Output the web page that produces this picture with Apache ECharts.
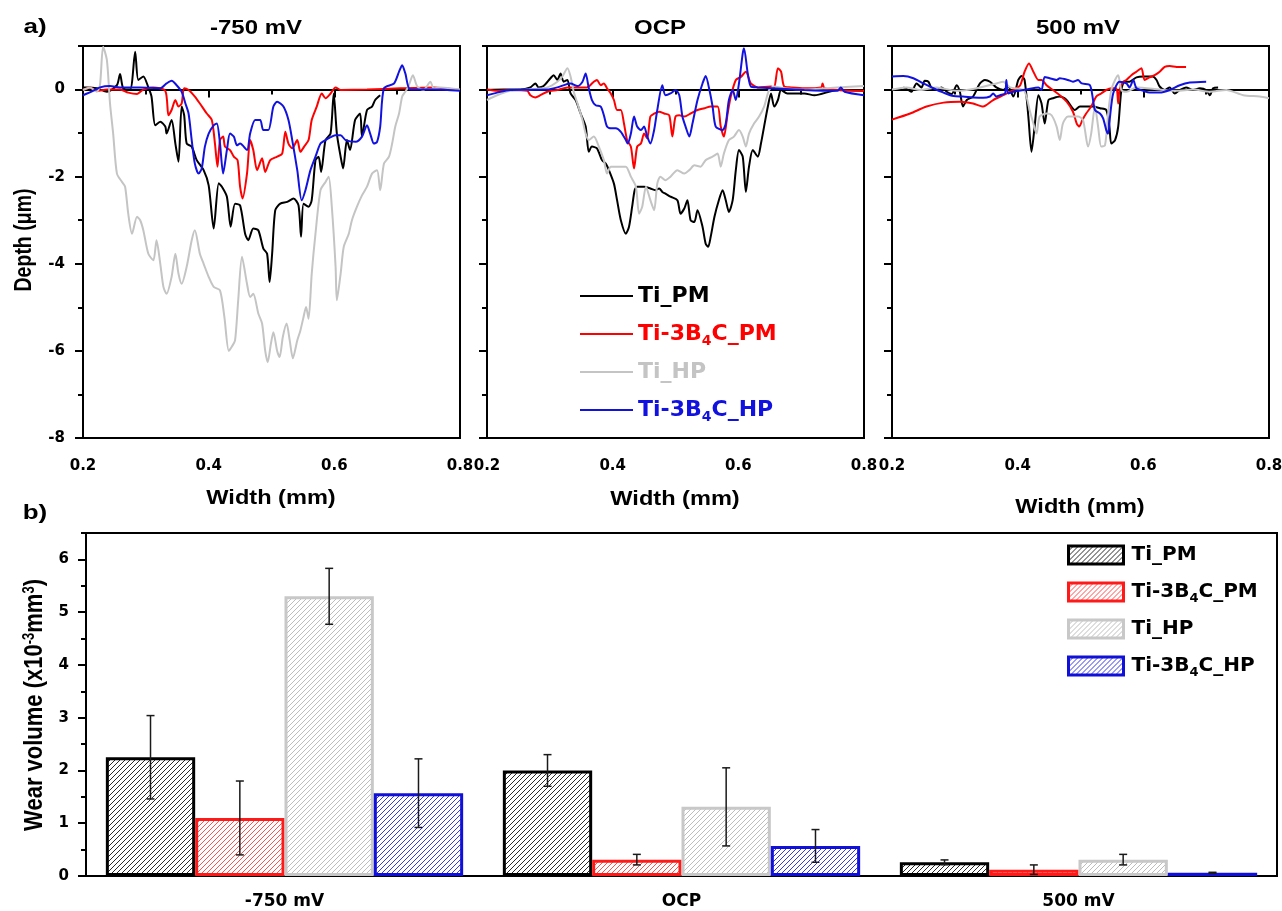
<!DOCTYPE html>
<html>
<head>
<meta charset="utf-8">
<title>Wear track profiles and wear volume</title>
<script src="https://cdn.jsdelivr.net/npm/echarts@6/dist/echarts.min.js"></script>
<style>
  html, body { margin: 0; padding: 0; background: #fff; }
  #chart { width: 1282px; height: 911px; }
</style>
</head>
<body>
<div id="chart"></div>
<script>
// ---------- wear track profiles: [width (mm), depth (µm)] ----------
const TI_PM_N750 = [[0.200,0.05],[0.206,0.05],[0.222,0.03],[0.238,-0.05],[0.254,0.10],[0.259,0.36],[0.264,0.03],[0.275,0.00],[0.283,0.87],[0.288,0.22],[0.296,0.30],[0.304,0.05],[0.309,-0.16],[0.315,-0.82],[0.323,-0.74],[0.331,-0.85],[0.333,-1.01],[0.341,-0.70],[0.347,-1.24],[0.352,-1.66],[0.357,-0.39],[0.361,-0.59],[0.365,-1.24],[0.373,-1.31],[0.381,-1.62],[0.392,-1.85],[0.400,-2.20],[0.408,-3.19],[0.416,-2.15],[0.421,-2.23],[0.429,-2.46],[0.435,-3.15],[0.442,-2.62],[0.450,-2.66],[0.458,-3.31],[0.463,-3.46],[0.471,-3.19],[0.479,-3.23],[0.487,-3.65],[0.493,-3.77],[0.497,-4.42],[0.501,-3.77],[0.506,-2.77],[0.514,-2.62],[0.525,-2.58],[0.535,-2.50],[0.543,-2.66],[0.547,-3.38],[0.551,-2.62],[0.559,-2.69],[0.564,-2.54],[0.570,-1.62],[0.575,-1.54],[0.579,-1.89],[0.586,-1.16],[0.594,-1.01],[0.599,-0.09],[0.604,-1.01],[0.610,-1.54],[0.614,-1.81],[0.620,-1.16],[0.625,-1.39],[0.633,-0.70],[0.641,-0.55],[0.644,-1.08],[0.652,-0.47],[0.660,-0.39],[0.665,-0.24],[0.673,-0.13]];
const B4C_PM_N750 = [[0.200,-0.01],[0.211,0.05],[0.222,-0.03],[0.238,0.00],[0.259,0.00],[0.272,-0.07],[0.286,-0.10],[0.296,0.00],[0.312,0.05],[0.331,-0.03],[0.336,-0.59],[0.341,-0.47],[0.347,-0.24],[0.352,-0.39],[0.357,-0.32],[0.361,0.03],[0.368,-0.01],[0.378,-0.16],[0.386,-0.32],[0.397,-0.55],[0.405,-0.70],[0.410,-1.24],[0.414,-1.77],[0.418,-1.16],[0.423,-1.08],[0.426,-1.31],[0.434,-1.39],[0.440,-1.54],[0.446,-1.62],[0.450,-2.23],[0.454,-2.50],[0.461,-1.93],[0.466,-1.16],[0.471,-1.39],[0.477,-1.85],[0.485,-1.58],[0.490,-1.89],[0.498,-1.62],[0.509,-1.54],[0.517,-1.47],[0.522,-0.97],[0.527,-1.24],[0.533,-1.35],[0.541,-1.16],[0.546,-1.43],[0.552,-1.31],[0.559,-1.16],[0.564,-0.70],[0.572,-0.39],[0.580,-0.09],[0.586,-0.20],[0.594,-0.09],[0.602,0.05],[0.610,-0.01],[0.652,0.00],[0.705,0.03],[0.758,0.05],[0.800,-0.01]];
const TI_HP_N750 = [[0.200,-0.01],[0.211,0.05],[0.222,-0.05],[0.227,0.10],[0.232,0.98],[0.238,0.68],[0.243,-0.32],[0.248,-1.01],[0.254,-1.93],[0.262,-2.12],[0.267,-2.23],[0.272,-2.85],[0.278,-3.31],[0.286,-2.92],[0.291,-3.00],[0.296,-3.23],[0.304,-3.77],[0.312,-3.92],[0.317,-3.46],[0.323,-4.00],[0.328,-4.53],[0.333,-4.69],[0.341,-4.30],[0.347,-3.77],[0.352,-4.23],[0.357,-4.46],[0.365,-4.07],[0.373,-3.46],[0.378,-3.23],[0.386,-3.77],[0.392,-4.00],[0.400,-4.30],[0.408,-4.53],[0.418,-4.61],[0.425,-5.22],[0.432,-6.00],[0.437,-5.90],[0.442,-5.76],[0.447,-4.84],[0.453,-3.84],[0.461,-4.46],[0.466,-4.76],[0.471,-4.69],[0.479,-5.14],[0.485,-5.37],[0.490,-6.00],[0.494,-6.26],[0.499,-5.84],[0.503,-5.57],[0.509,-6.00],[0.513,-6.14],[0.518,-5.68],[0.524,-5.37],[0.529,-5.76],[0.534,-6.17],[0.541,-5.76],[0.546,-5.53],[0.551,-5.22],[0.555,-4.99],[0.559,-5.26],[0.564,-4.23],[0.570,-3.31],[0.578,-2.31],[0.586,-2.12],[0.591,-2.00],[0.596,-2.69],[0.602,-4.07],[0.604,-4.84],[0.610,-4.23],[0.615,-3.61],[0.623,-3.31],[0.628,-3.00],[0.636,-2.69],[0.644,-2.43],[0.652,-2.23],[0.660,-1.93],[0.668,-1.85],[0.673,-2.31],[0.679,-1.70],[0.687,-1.54],[0.692,-1.24],[0.697,-0.85],[0.703,-0.55],[0.708,-0.16],[0.713,-0.05],[0.718,0.07],[0.725,0.33],[0.732,0.07],[0.742,-0.01],[0.753,0.18],[0.758,0.03],[0.769,0.05],[0.800,0.00]];
const B4C_HP_N750 = [[0.200,-0.13],[0.216,-0.03],[0.227,0.05],[0.243,0.08],[0.259,0.05],[0.291,0.05],[0.323,0.03],[0.333,0.14],[0.341,0.20],[0.349,0.10],[0.357,-0.05],[0.363,-0.32],[0.368,-0.55],[0.373,-1.16],[0.378,-1.70],[0.384,-1.93],[0.389,-1.81],[0.394,-1.31],[0.400,-1.01],[0.408,-0.82],[0.413,-0.78],[0.418,-1.24],[0.423,-1.93],[0.429,-1.39],[0.434,-1.01],[0.440,-1.08],[0.445,-1.28],[0.450,-1.24],[0.461,-1.39],[0.466,-1.01],[0.474,-0.70],[0.482,-0.70],[0.487,-0.93],[0.495,-0.93],[0.503,-0.39],[0.509,-0.28],[0.519,-0.39],[0.527,-0.70],[0.533,-1.16],[0.541,-1.85],[0.548,-2.54],[0.554,-2.31],[0.562,-1.85],[0.570,-1.54],[0.578,-1.24],[0.586,-1.16],[0.602,-1.05],[0.610,-1.05],[0.618,-1.16],[0.634,-1.20],[0.644,-1.08],[0.652,-0.82],[0.657,-1.01],[0.663,-1.24],[0.668,-1.20],[0.673,-0.85],[0.679,0.03],[0.695,0.14],[0.703,0.41],[0.708,0.56],[0.713,0.37],[0.721,0.00],[0.758,0.00],[0.800,-0.03]];

const TI_PM_OCP = [[0.200,-0.01],[0.227,0.00],[0.253,0.00],[0.269,0.05],[0.277,0.14],[0.282,0.05],[0.290,0.08],[0.301,0.26],[0.306,0.33],[0.312,0.22],[0.317,0.37],[0.322,0.18],[0.328,0.22],[0.333,-0.09],[0.341,-0.24],[0.349,-0.55],[0.357,-0.85],[0.362,-1.43],[0.367,-1.31],[0.375,-1.35],[0.383,-1.62],[0.389,-1.70],[0.394,-1.85],[0.402,-2.16],[0.407,-2.54],[0.413,-3.00],[0.421,-3.31],[0.426,-3.15],[0.431,-2.69],[0.435,-2.31],[0.439,-2.23],[0.450,-2.23],[0.460,-2.27],[0.468,-2.31],[0.474,-2.27],[0.479,-2.35],[0.484,-2.39],[0.492,-2.46],[0.503,-2.54],[0.508,-2.85],[0.514,-2.73],[0.519,-2.54],[0.524,-3.00],[0.530,-3.04],[0.535,-2.77],[0.543,-3.15],[0.548,-3.54],[0.552,-3.61],[0.556,-3.38],[0.562,-2.92],[0.569,-2.54],[0.575,-2.31],[0.580,-2.54],[0.585,-2.81],[0.591,-2.54],[0.596,-1.85],[0.601,-1.39],[0.607,-1.54],[0.612,-2.35],[0.617,-1.77],[0.623,-1.39],[0.631,-1.54],[0.636,-1.24],[0.641,-0.85],[0.647,-0.39],[0.652,-0.09],[0.657,-0.39],[0.663,-0.24],[0.668,-0.01],[0.678,-0.09],[0.705,-0.09],[0.721,-0.13],[0.758,-0.01],[0.800,-0.03]];
const B4C_PM_OCP = [[0.200,0.00],[0.216,-0.03],[0.237,-0.01],[0.264,-0.03],[0.269,-0.13],[0.277,-0.18],[0.285,-0.13],[0.296,-0.05],[0.312,-0.01],[0.328,0.05],[0.359,0.05],[0.370,0.18],[0.375,0.22],[0.381,0.10],[0.386,0.14],[0.391,0.03],[0.397,-0.09],[0.402,-0.24],[0.407,-0.47],[0.413,-0.47],[0.418,-0.78],[0.423,-1.16],[0.429,-1.31],[0.434,-1.81],[0.439,-1.31],[0.445,-1.24],[0.450,-1.01],[0.455,-1.12],[0.460,-0.62],[0.466,-0.55],[0.474,-0.51],[0.482,-0.55],[0.490,-0.59],[0.495,-1.08],[0.500,-0.62],[0.506,-0.59],[0.514,-0.62],[0.524,-0.55],[0.535,-0.47],[0.546,-0.43],[0.556,-0.39],[0.567,-0.39],[0.572,-0.85],[0.577,-1.08],[0.583,-0.55],[0.588,-0.16],[0.596,0.22],[0.604,0.29],[0.612,0.41],[0.620,0.14],[0.631,0.05],[0.652,0.07],[0.657,0.05],[0.663,0.49],[0.668,0.41],[0.673,0.07],[0.684,0.05],[0.705,0.03],[0.732,0.05],[0.734,0.14],[0.737,0.03],[0.758,-0.01],[0.800,-0.03]];
const TI_HP_OCP = [[0.200,-0.24],[0.216,-0.13],[0.237,-0.03],[0.264,0.00],[0.296,0.05],[0.312,0.18],[0.320,0.30],[0.328,0.49],[0.333,0.30],[0.338,-0.05],[0.344,-0.32],[0.352,-0.70],[0.357,-1.01],[0.362,-1.16],[0.370,-1.08],[0.378,-1.31],[0.386,-1.62],[0.391,-1.93],[0.397,-1.77],[0.405,-1.77],[0.413,-1.77],[0.421,-1.77],[0.429,-2.00],[0.437,-2.23],[0.442,-2.85],[0.447,-2.69],[0.453,-2.23],[0.460,-2.54],[0.466,-2.77],[0.471,-2.16],[0.476,-2.00],[0.484,-2.08],[0.492,-2.00],[0.503,-1.85],[0.514,-1.93],[0.522,-1.85],[0.530,-1.74],[0.540,-1.77],[0.548,-1.62],[0.559,-1.54],[0.567,-1.47],[0.572,-1.77],[0.577,-1.47],[0.585,-1.16],[0.593,-1.08],[0.601,-0.93],[0.607,-1.08],[0.612,-1.31],[0.617,-1.01],[0.625,-0.78],[0.633,-0.62],[0.641,-0.39],[0.649,-0.01],[0.657,0.07],[0.673,0.03],[0.705,0.00],[0.758,0.05],[0.800,0.08]];
const B4C_HP_OCP = [[0.200,-0.13],[0.216,-0.07],[0.237,-0.01],[0.296,0.00],[0.312,0.05],[0.333,0.14],[0.344,0.08],[0.352,0.18],[0.357,0.37],[0.362,0.03],[0.367,-0.24],[0.373,-0.36],[0.381,-0.39],[0.386,-0.59],[0.391,-0.85],[0.397,-0.89],[0.405,-0.89],[0.413,-0.97],[0.421,-1.16],[0.424,-1.24],[0.429,-1.01],[0.434,-0.62],[0.439,-0.85],[0.445,-0.93],[0.450,-0.85],[0.455,-1.08],[0.460,-1.24],[0.466,-0.93],[0.471,-0.47],[0.479,0.10],[0.484,-0.13],[0.492,-0.09],[0.500,-0.01],[0.506,-0.13],[0.511,-0.62],[0.516,-0.85],[0.522,-1.08],[0.527,-0.78],[0.535,-0.24],[0.543,0.14],[0.548,0.31],[0.554,-0.01],[0.559,-0.39],[0.564,-0.85],[0.575,-0.93],[0.580,-0.78],[0.585,-0.24],[0.591,-0.01],[0.596,-0.24],[0.601,0.14],[0.607,0.83],[0.609,0.95],[0.615,0.37],[0.620,0.07],[0.631,0.05],[0.705,-0.01],[0.758,-0.03],[0.763,0.05],[0.769,-0.05],[0.800,-0.13]];

const TI_PM_P500 = [[0.218,0.05],[0.226,-0.01],[0.231,-0.05],[0.239,0.14],[0.247,0.05],[0.252,0.20],[0.258,0.18],[0.263,0.03],[0.271,-0.01],[0.279,0.05],[0.287,-0.05],[0.295,-0.10],[0.303,0.10],[0.308,-0.05],[0.313,-0.39],[0.319,-0.24],[0.329,-0.16],[0.340,0.14],[0.348,0.22],[0.356,0.18],[0.366,0.05],[0.377,-0.01],[0.385,0.07],[0.393,-0.16],[0.401,0.22],[0.406,0.31],[0.411,0.22],[0.417,-0.62],[0.422,-1.43],[0.427,-0.85],[0.433,-0.13],[0.438,-0.32],[0.443,-0.78],[0.449,-0.24],[0.456,-0.20],[0.467,-0.16],[0.478,-0.24],[0.491,-0.47],[0.499,-0.39],[0.520,-0.39],[0.531,-0.43],[0.541,-0.47],[0.546,-0.85],[0.549,-1.24],[0.555,-1.16],[0.560,-0.85],[0.565,-0.01],[0.570,0.18],[0.578,0.18],[0.589,0.28],[0.600,0.30],[0.615,0.30],[0.621,0.22],[0.626,0.07],[0.634,-0.01],[0.642,0.05],[0.650,-0.09],[0.658,-0.01],[0.668,0.05],[0.679,-0.01],[0.690,0.03],[0.700,-0.01],[0.706,-0.13],[0.711,0.03],[0.719,0.05]];
const B4C_PM_P500 = [[0.200,-0.69],[0.229,-0.55],[0.255,-0.39],[0.282,-0.30],[0.308,-0.28],[0.329,-0.32],[0.345,-0.39],[0.361,-0.24],[0.377,-0.13],[0.393,-0.01],[0.404,0.10],[0.411,0.41],[0.418,0.60],[0.425,0.41],[0.433,0.22],[0.438,0.22],[0.446,0.10],[0.456,-0.01],[0.467,-0.13],[0.478,-0.28],[0.488,-0.51],[0.494,-0.78],[0.498,-0.85],[0.503,-0.70],[0.509,-0.55],[0.517,-0.39],[0.525,-0.16],[0.533,-0.09],[0.541,-0.01],[0.549,0.03],[0.557,0.03],[0.560,-0.32],[0.562,-0.01],[0.568,0.18],[0.573,0.22],[0.581,0.33],[0.589,0.41],[0.597,0.49],[0.602,0.22],[0.610,0.28],[0.618,0.33],[0.626,0.41],[0.634,0.52],[0.642,0.54],[0.653,0.52],[0.668,0.52]];
const TI_HP_P500 = [[0.200,0.00],[0.223,0.05],[0.245,-0.01],[0.271,0.05],[0.303,-0.03],[0.335,0.03],[0.366,0.14],[0.377,0.18],[0.388,0.05],[0.409,-0.01],[0.414,-0.16],[0.419,-0.47],[0.425,-0.78],[0.430,-1.01],[0.435,-0.62],[0.446,-0.55],[0.454,-0.59],[0.462,-0.85],[0.467,-1.16],[0.472,-0.78],[0.480,-0.62],[0.496,-0.62],[0.504,-0.70],[0.512,-1.31],[0.517,-1.01],[0.523,-0.39],[0.528,-0.85],[0.533,-1.31],[0.539,-1.28],[0.544,-0.55],[0.549,-0.01],[0.555,0.22],[0.560,0.33],[0.565,-0.01],[0.573,-0.05],[0.589,0.05],[0.626,0.00],[0.653,-0.03],[0.679,0.00],[0.706,-0.05],[0.732,-0.01],[0.759,-0.13],[0.785,-0.16],[0.800,-0.20]];
const B4C_HP_P500 = [[0.200,0.30],[0.218,0.31],[0.234,0.26],[0.250,0.14],[0.266,0.03],[0.282,-0.07],[0.298,-0.15],[0.313,-0.16],[0.329,-0.18],[0.345,-0.19],[0.356,-0.16],[0.361,-0.09],[0.366,-0.16],[0.372,-0.13],[0.380,-0.09],[0.382,0.22],[0.385,-0.09],[0.393,-0.05],[0.414,0.00],[0.433,0.05],[0.438,-0.01],[0.443,0.29],[0.451,0.26],[0.462,0.22],[0.467,0.26],[0.480,0.22],[0.488,0.18],[0.496,0.22],[0.502,0.14],[0.515,0.10],[0.520,-0.24],[0.523,-0.47],[0.531,-0.55],[0.536,-0.66],[0.541,-0.93],[0.544,-1.01],[0.547,-0.62],[0.552,-0.09],[0.562,0.18],[0.573,0.14],[0.578,0.05],[0.584,0.22],[0.589,0.03],[0.600,-0.03],[0.610,-0.07],[0.626,-0.07],[0.642,-0.01],[0.658,0.10],[0.674,0.16],[0.700,0.18]];

// ---------- wear volume (x10^-3 mm^3) ----------
const conditions = ['-750 mV', 'OCP', '500 mV'];
const wearTiPM   = [2.25, 2.00, 0.26];
const errTiPM    = [0.79, 0.30, 0.045];
const wearB4CPM  = [1.10, 0.31, 0.12];
const errB4CPM   = [0.70, 0.10, 0.09];
const wearTiHP   = [5.30, 1.31, 0.31];
const errTiHP    = [0.53, 0.74, 0.10];
const wearB4CHP  = [1.57, 0.57, 0.06];
const errB4CHP   = [0.65, 0.31, 0.01];

// tick positions
const depthMajor = [-8, -6, -4, -2, 0];
const depthMinor = [-7, -5, -3, -1, 1];
const widthMajor = [0.2, 0.4, 0.6, 0.8];
const widthMinor = [0.3, 0.5, 0.7];
const volMajor = [0, 1, 2, 3, 4, 5, 6];
const volMinor = [0.5, 1.5, 2.5, 3.5, 4.5, 5.5, 6.5];

const materials = ['Ti_PM', 'Ti-3B4C_PM', 'Ti_HP', 'Ti-3B4C_HP'];
const richLabel = {
  'Ti_PM': 'Ti_PM',
  'Ti-3B4C_PM': 'Ti-3B{s|4}C_PM',
  'Ti_HP': 'Ti_HP',
  'Ti-3B4C_HP': 'Ti-3B{s|4}C_HP'
};
const lineColors = ['#000000', '#ff0000', '#c4c4c4', '#1212e0'];
const barBorders = ['#000000', '#ff1a1a', '#c8c8c8', '#1010d8'];
const hatchInk   = ['#2a2a2a', '#ff5050', '#bdbdbd', '#3838e0'];

const FONT = '"Liberation Sans", Arial, Helvetica, sans-serif';
const WIDE = '"DejaVu Sans", Verdana, sans-serif';

function hatch(ink) {
  const s = 5;
  const c = document.createElement('canvas');
  c.width = s; c.height = s;
  const g = c.getContext('2d');
  g.fillStyle = '#ffffff';
  g.fillRect(0, 0, s, s);
  g.strokeStyle = ink;
  g.lineWidth = 1;
  g.beginPath();
  g.moveTo(0, s); g.lineTo(s, 0);
  g.moveTo(-1, 1); g.lineTo(1, -1);
  g.moveTo(s - 1, s + 1); g.lineTo(s + 1, s - 1);
  g.stroke();
  return { image: c, repeat: 'repeat' };
}

const panels = [
  { left: 83,  series: [TI_PM_N750, B4C_PM_N750, TI_HP_N750, B4C_HP_N750] },
  { left: 487, series: [TI_PM_OCP,  B4C_PM_OCP,  TI_HP_OCP,  B4C_HP_OCP] },
  { left: 892, series: [TI_PM_P500, B4C_PM_P500, TI_HP_P500, B4C_HP_P500] }
];

const axisLineStyle = { color: '#000', width: 2 };
const labelFont = { color: '#000', fontWeight: 'bold', fontFamily: WIDE };

const grids = [];
const xAxes = [];
const yAxes = [];
const series = [];

panels.forEach(function (p, i) {
  grids.push({ left: p.left, top: 46, width: 377, height: 392, show: true,
    borderColor: '#000', borderWidth: 2, outerBoundsMode: 'none', containLabel: false });
  xAxes.push({ type: 'value', gridIndex: i, position: 'bottom', min: 0.2, max: 0.8,
    axisLine: { lineStyle: axisLineStyle },
    axisTick: { customValues: widthMajor, length: 8, lineStyle: axisLineStyle },
    axisLabel: Object.assign({ customValues: widthMajor, fontSize: 15, margin: 21,
      formatter: function (v) { return v.toFixed(1); } }, labelFont),
    splitLine: { show: false } });
  xAxes.push({ type: 'value', gridIndex: i, position: 'bottom', min: 0.2, max: 0.8,
    axisLine: { show: false },
    axisTick: { customValues: widthMinor, length: 5, lineStyle: axisLineStyle },
    axisLabel: { show: false }, splitLine: { show: false } });
  yAxes.push({ type: 'value', gridIndex: i, position: 'left', min: -8, max: 1,
    axisLine: { show: true, lineStyle: axisLineStyle },
    axisTick: { show: true, customValues: depthMajor, length: 8, lineStyle: axisLineStyle },
    axisLabel: Object.assign({ show: i === 0, customValues: depthMajor, fontSize: 15, margin: 18 }, labelFont),
    splitLine: { show: false } });
  yAxes.push({ type: 'value', gridIndex: i, position: 'left', min: -8, max: 1,
    axisLine: { show: false },
    axisTick: { show: true, customValues: depthMinor, length: 5, lineStyle: axisLineStyle },
    axisLabel: { show: false }, splitLine: { show: false } });
  p.series.forEach(function (d, k) {
    series.push({ type: 'line', name: materials[k], xAxisIndex: 2 * i, yAxisIndex: 2 * i,
      data: d, showSymbol: false, symbol: 'none', smooth: 0.25,
      lineStyle: { color: lineColors[k], width: 2 }, itemStyle: { color: lineColors[k] },
      emphasis: { disabled: true }, z: 3 });
  });
});

// bar chart grid
grids.push({ left: 86, top: 533, width: 1191, height: 343, show: true,
  borderColor: '#000', borderWidth: 2, outerBoundsMode: 'none', containLabel: false });
xAxes.push({ type: 'category', gridIndex: 3, position: 'bottom', data: conditions,
  axisLine: { lineStyle: axisLineStyle },
  axisTick: { length: 7, lineStyle: axisLineStyle },
  axisLabel: Object.assign({ fontSize: 17, margin: 17 }, labelFont) });
xAxes.push({ type: 'category', gridIndex: 3, position: 'bottom', data: conditions,
  axisLine: { show: false },
  axisTick: { alignWithLabel: true, length: 7, lineStyle: axisLineStyle },
  axisLabel: { show: false } });
yAxes.push({ type: 'value', gridIndex: 3, position: 'left', min: 0, max: 6.5,
  axisLine: { show: true, lineStyle: axisLineStyle },
  axisTick: { show: true, customValues: volMajor, length: 8, lineStyle: axisLineStyle },
  axisLabel: Object.assign({ customValues: volMajor, fontSize: 15, margin: 17 }, labelFont),
  splitLine: { show: false } });
yAxes.push({ type: 'value', gridIndex: 3, position: 'left', min: 0, max: 6.5,
  axisLine: { show: false },
  axisTick: { show: true, customValues: volMinor, length: 5, lineStyle: axisLineStyle },
  axisLabel: { show: false }, splitLine: { show: false } });

const wear = [wearTiPM, wearB4CPM, wearTiHP, wearB4CHP];
const errs = [errTiPM, errB4CPM, errTiHP, errB4CHP];
wear.forEach(function (vals, k) {
  series.push({ type: 'bar', name: 'wear:' + materials[k], xAxisIndex: 6, yAxisIndex: 6,
    data: vals, barGap: '0%', barCategoryGap: '10%',
    itemStyle: { color: hatch(hatchInk[k]), borderColor: barBorders[k], borderWidth: 3 },
    emphasis: { disabled: true }, z: 2 });
});

// error bars, placed over the grouped bars
const errData = [];
wear.forEach(function (vals, k) {
  vals.forEach(function (v, c) { errData.push([c, v, errs[k][c], k]); });
});
series.push({
  type: 'custom', name: 'error', xAxisIndex: 6, yAxisIndex: 6, z: 5,
  data: errData, encode: { x: 0, y: 1 },
  renderItem: function (params, api) {
    const c = api.value(0), m = api.value(1), e = api.value(2), k = api.value(3);
    const center = api.coord([c, m]);
    const band = api.size([1, 0])[0];
    const bw = band * 0.9 / 4;
    const x = center[0] + (k - 1.5) * bw;
    const yTop = api.coord([c, m + e])[1];
    const yBot = api.coord([c, Math.max(m - e, 0)])[1];
    const cap = 4;
    const st = { stroke: '#1a1a1a', lineWidth: 1.5 };
    return { type: 'group', children: [
      { type: 'line', shape: { x1: x, y1: yTop, x2: x, y2: yBot }, style: st },
      { type: 'line', shape: { x1: x - cap, y1: yTop, x2: x + cap, y2: yTop }, style: st },
      { type: 'line', shape: { x1: x - cap, y1: yBot, x2: x + cap, y2: yBot }, style: st }
    ] };
  }
});

function subRich(color, size) {
  return { s: { fontSize: size, fontWeight: 'bold', fontFamily: WIDE, color: color,
    verticalAlign: 'bottom', lineHeight: size } };
}

const lineLegend = {
  orient: 'vertical', left: 580, top: 282, padding: 0, itemWidth: 53, itemHeight: 2, itemGap: 10,
  icon: 'rect', selectedMode: false,
  data: materials.map(function (m, k) {
    return { name: m, textStyle: { color: lineColors[k], rich: subRich(lineColors[k], 14) } };
  }),
  formatter: function (n) { return richLabel[n]; },
  textStyle: { fontSize: 22, fontWeight: 'bold', fontFamily: WIDE, lineHeight: 28 }
};
const barLegend = {
  orient: 'vertical', left: 1067, top: 542, padding: 0, itemWidth: 55, itemHeight: 18, itemGap: 11,
  icon: 'rect', selectedMode: false,
  data: materials.map(function (m) { return 'wear:' + m; }),
  formatter: function (n) { return richLabel[n.slice(5)]; },
  itemStyle: { borderWidth: 3 },
  textStyle: { fontSize: 20, fontWeight: 'bold', fontFamily: WIDE, color: '#000',
    lineHeight: 26, padding: [0, 0, 0, 3], rich: subRich('#000', 13) }
};

function txt(text, x, y, size, rot, sx, sy, rich) {
  const el = { type: 'text', x: x, y: y, rotation: rot || 0, scaleX: sx || 1, scaleY: sy || 1, z: 10,
    style: { text: text, fill: '#000', font: 'bold ' + size + 'px ' + FONT,
      fontSize: size, fontWeight: 'bold', fontFamily: FONT,
      align: 'center', verticalAlign: 'middle', textAlign: 'center', textVerticalAlign: 'middle' } };
  if (rich) el.style.rich = rich;
  return el;
}

const supRich = { u: { fontSize: 13, fontWeight: 'bold', fontFamily: FONT, fill: '#000', color: '#000',
  verticalAlign: 'top', lineHeight: 13 } };

const graphics = [
  txt('a)', 35, 27, 20, 0, 1.3),
  txt('b)', 35, 513, 20, 0, 1.3),
  txt('-750 mV', 256, 28, 20, 0, 1.2),
  txt('OCP', 660, 28, 20, 0, 1.2),
  txt('500 mV', 1078, 28, 20, 0, 1.2),
  txt('Width (mm)', 271, 498, 20.5, 0, 1.15),
  txt('Width (mm)', 675, 499, 20.5, 0, 1.15),
  txt('Width (mm)', 1080, 507, 20.5, 0, 1.15),
  txt('Depth (μm)', 24, 240, 19.5, Math.PI / 2, 1, 1.25),
  txt('Wear volume (x10{u|-3}mm{u|3})', 35, 705, 22, Math.PI / 2, 1, 1.2, supRich)
];

const chart = echarts.init(document.getElementById('chart'), null, { renderer: 'canvas' });
chart.setOption({
  backgroundColor: '#ffffff',
  animation: false,
  grid: grids,
  xAxis: xAxes,
  yAxis: yAxes,
  legend: [lineLegend, barLegend],
  series: series,
  graphic: graphics
});
</script>
</body>
</html>
